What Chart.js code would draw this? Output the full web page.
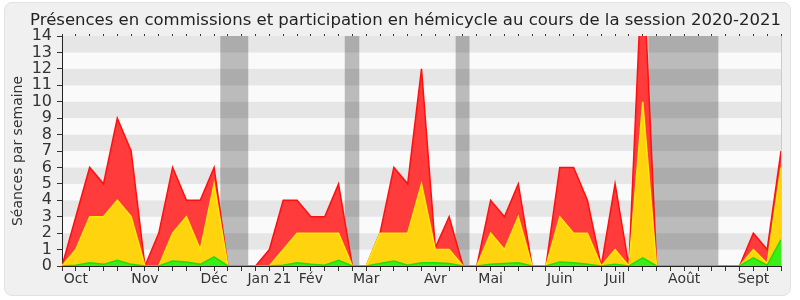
<!DOCTYPE html>
<html>
<head>
<meta charset="utf-8">
<script src="https://cdn.jsdelivr.net/npm/chart.js@4"></script>
<style>
  body { margin: 0; background: #fff; }
  #frame { position: absolute; left: 4px; top: 2px; width: 785px; height: 292px; background: #f0f0f0; border: 1px solid #e2e2e2; border-radius: 8px; }
  #wrap { position: absolute; left: 0; top: 0; width: 800px; height: 300px; }
</style>
</head>
<body>
<div id="frame"></div>
<div id="wrap"><canvas id="growthChart" width="800" height="300"></canvas></div>
<script>
// one value per week, from late September 2020 to September 2021
const weeks = [0,1,2,3,4,5,6,7,8,9,10,11,12,13,14,15,16,17,18,19,20,21,22,23,24,25,26,
               27,28,29,30,31,32,33,34,35,36,37,38,39,40,41,42,43,44,45,46,47,48,49,50,51,52];

// cumulated heights (top of each band)
const redTop = [0,3,6,5,9,7,0,2,6,4,4,6,0,0,0,1,4,4,3,3,5,0,0,2,6,5,12,1.1,3,0,0,4,3,5,0,0,
                6,6,4,0,5,0,19,0,0,0,0,0,0,0,2,1,7];
const yellowTop = [0,1,3,3,4,3,0,0,2,3,1,5,0,0,0,0,1,2,2,2,2,0,0,2,2,2,5,1,1,0,0,2,1,3,0,0,
                   3,2,2,0,1,0,10,0,0,0,0,0,0,0,1,0.15,6];
const greenTop = [0,0.05,0.2,0.1,0.35,0.1,0,0,0.3,0.25,0.1,0.55,0,0,0,0,0.05,0.2,0.1,0.05,0.35,0,0,
                  0.15,0.3,0.05,0.2,0.2,0.15,0,0,0.1,0.15,0.2,0,0,0.25,0.2,0.1,0,0.1,0,0.5,0,0,0,0,0,0,0,
                  0.5,0.05,1.6];

// school holidays, in week units
const vacations = [[11.45, 13.47], [20.45, 21.5], [28.47, 29.47], [42.4, 47.47]];

const monthTicks = [1, 6, 11, 15, 18, 22, 27, 31, 36, 40, 45, 50];
const monthLabels = ['Oct', 'Nov', 'Déc', 'Jan 21', 'Fév', 'Mar', 'Avr', 'Mai', 'Juin', 'Juil', 'Août', 'Sept'];

const font = { family: 'DejaVu Sans', size: 14 };

const bandsPlugin = {
    id: 'bands',
    beforeDraw(chart) {
        const { ctx, chartArea: a, scales } = chart;
        const y = scales.y, x = scales.x;
        ctx.save();
        for (let v = 0; v < 14; v++) {
            ctx.fillStyle = v % 2 === 0 ? '#fafafa' : '#e6e6e6';
            const top = y.getPixelForValue(v + 1), bot = y.getPixelForValue(v);
            ctx.fillRect(a.left, top, a.right - a.left, bot - top);
        }
        ctx.fillStyle = 'rgba(0,0,0,0.25)';
        vacations.forEach(([s, e]) => {
            const x0 = x.getPixelForValue(s), x1 = x.getPixelForValue(e);
            ctx.fillRect(x0, a.top, x1 - x0, a.bottom - a.top);
        });
        ctx.strokeStyle = '#cccccc';
        ctx.lineWidth = 1;
        ctx.beginPath();
        ctx.moveTo(a.right + 0.5, a.top);
        ctx.lineTo(a.right + 0.5, a.bottom);
        ctx.stroke();
        ctx.restore();
    }
};

function series(values) {
    return values.map((v, i) => ({ x: weeks[i], y: v }));
}

const weekTicks = ctxScale => { ctxScale.ticks = weeks.map(v => ({ value: v })); };

const ctx = document.getElementById('growthChart').getContext('2d');
const myChart = new Chart(ctx, {
    type: 'line',
    data: {
        datasets: [{
            data: series(greenTop),
            backgroundColor: '#3aee1a',
            borderColor: '#22dd00',
            fill: 'origin'
        }, {
            data: series(yellowTop),
            backgroundColor: '#ffd30d',
            borderColor: '#ffe90a',
            fill: 'origin'
        }, {
            data: series(redTop),
            backgroundColor: '#ff3b3b',
            borderColor: '#ff1010',
            fill: 'origin'
        }]
    },
    options: {
        responsive: false,
        animation: false,
        layout: { padding: { left: 0, right: 19, top: 0, bottom: 0 } },
        elements: {
            line: { tension: 0, borderWidth: 1.5 },
            point: { radius: 0 }
        },
        plugins: {
            legend: { display: false },
            tooltip: { enabled: false },
            title: {
                display: true,
                align: 'end',
                text: 'Présences en commissions et participation en hémicycle au cours de la session 2020-2021',
                font: { family: 'DejaVu Sans', size: 16.5, weight: 'normal' },
                color: '#222',
                padding: { top: 11, bottom: 3.2 }
            }
        },
        scales: {
            x: {
                type: 'linear',
                position: 'bottom',
                min: 0,
                max: 52,
                afterBuildTicks: weekTicks,
                afterFit: s => { s.height = 34; },
                ticks: {
                    autoSkip: false,
                    maxRotation: 0,
                    padding: 0,
                    font: font,
                    color: '#333',
                    callback: v => {
                        const k = monthTicks.indexOf(v);
                        return k < 0 ? '' : monthLabels[k];
                    }
                },
                grid: { drawOnChartArea: false, tickLength: 5, color: '#333' },
                border: { color: '#222' }
            },
            xTop: {
                type: 'linear',
                position: 'top',
                min: 0,
                max: 52,
                afterBuildTicks: weekTicks,
                ticks: { display: false },
                grid: { drawOnChartArea: false, tickLength: 2, color: '#333' },
                border: { display: false }
            },
            y: {
                min: 0,
                max: 14,
                afterFit: s => { s.width = 62; },
                ticks: { stepSize: 1, autoSkip: false, font: { family: 'DejaVu Sans', size: 16 }, color: '#333', padding: 5 },
                grid: { drawOnChartArea: false, tickLength: 5, color: '#333' },
                border: { color: '#222' },
                title: {
                    display: true,
                    text: 'Séances par semaine',
                    font: font,
                    color: '#333',
                    padding: { top: 10, bottom: 0 }
                }
            }
        }
    },
    plugins: [bandsPlugin]
});
</script>
</body>
</html>
